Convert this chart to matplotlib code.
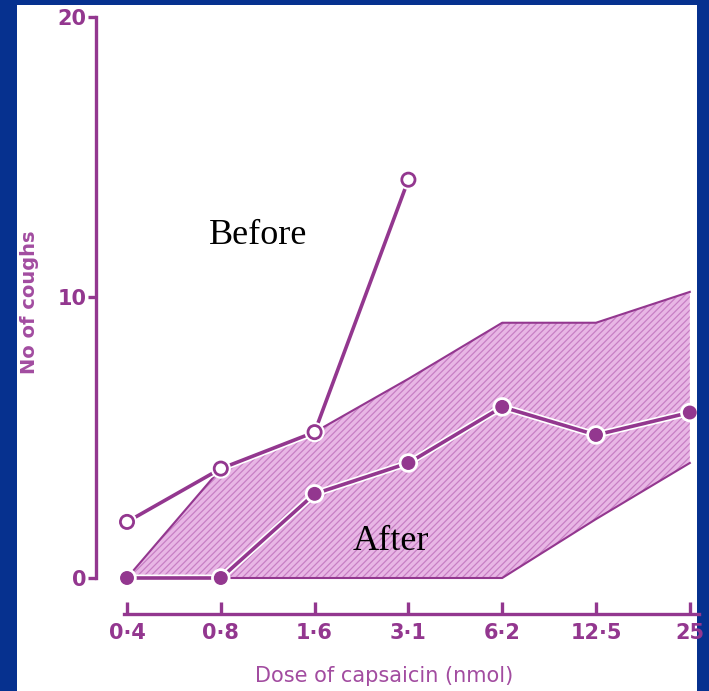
import matplotlib.pyplot as plt
import matplotlib.patheffects as pe
import numpy as np

# Data
doses = ['0·4', '0·8', '1·6', '3·1', '6·2', '12·5', '25']
before = [2.0, 3.9, 5.2, 14.2]
after = [0, 0, 3.0, 4.1, 6.1, 5.1, 5.9]
band_upper = [0, 3.9, 5.2, 7.1, 9.1, 9.1, 10.2]
band_lower = [0, 0, 0, 0, 0, 2.1, 4.1]

purple = '#93378f'
label_purple = '#a24ca0'
blue = '#06318f'

plt.rcParams['font.family'] = ['Liberation Sans Narrow', 'DejaVu Sans']
plt.rcParams['hatch.color'] = '#c77fc4'
plt.rcParams['hatch.linewidth'] = 0.9

fig = plt.figure(figsize=(7.09, 6.91), dpi=100, facecolor=blue)
ax = fig.add_axes([17/709, 0, 680/709, 686/691])
ax.set_facecolor('white')

x = np.arange(len(doses))

# shaded range of "after" responses (open at the right end)
ax.fill_between(x, band_lower, band_upper, facecolor='#e8b6e5', hatch='/////',
                edgecolor='none', linewidth=0, zorder=1)
ax.plot(x, band_upper, color=purple, lw=1.5, zorder=2)
ax.plot(x, band_lower, color=purple, lw=1.5, zorder=2)

halo = [pe.withStroke(linewidth=5, foreground='white')]
ax.plot(x, after, color=purple, lw=2.6, marker='o', ms=9, mfc=purple, mec=purple,
        path_effects=halo, zorder=3)
ax.plot(x[:len(before)], before, color=purple, lw=2.6, marker='o', ms=9.5, mfc='white',
        mec=purple, mew=2, path_effects=halo, zorder=4)

ax.text(1.4, 12.2, 'Before', fontsize=26, family='Liberation Serif', ha='center', va='center')
ax.text(2.81, 1.3, 'After', fontsize=26, family='Liberation Serif', ha='center', va='center')

# axes
ax.set_xlim((17 - 127) / 93.8, (697 - 127) / 93.8)
ax.set_ylim((578 - 691) / 28.05, (578 - 5) / 28.05)
for s in ['top', 'right']:
    ax.spines[s].set_visible(False)
ax.spines['left'].set_position(('data', -0.33))
ax.spines['left'].set_bounds(0, 20)
ax.spines['bottom'].set_position(('data', -1.3))
ax.spines['bottom'].set_bounds(-0.03, 6.1)
for s in ['left', 'bottom']:
    ax.spines[s].set_color(purple)
    ax.spines[s].set_linewidth(2.4)

ax.set_yticks([0, 10, 20])
ax.set_yticklabels(['0', '10', '20'])
ax.set_xticks(x)
ax.set_xticklabels(doses)
ax.tick_params(axis='y', direction='out', length=6, width=2.4, color=purple,
               labelcolor=purple, labelsize=15, pad=1)
ax.tick_params(axis='x', direction='in', length=9, width=2.4, color=purple,
               labelcolor=purple, labelsize=15, pad=6)
for lbl in ax.get_xticklabels() + ax.get_yticklabels():
    lbl.set_fontweight('bold')

fig.text(30/709, 1 - 302/691, 'No of coughs', rotation=90, color=label_purple,
         fontsize=14, fontweight='bold', ha='center', va='center')
fig.text(384/709, 1 - 676/691, 'Dose of capsaicin (nmol)', color=label_purple,
         fontsize=15, ha='center', va='center')

fig.savefig('out.png', dpi=100, facecolor=blue)
